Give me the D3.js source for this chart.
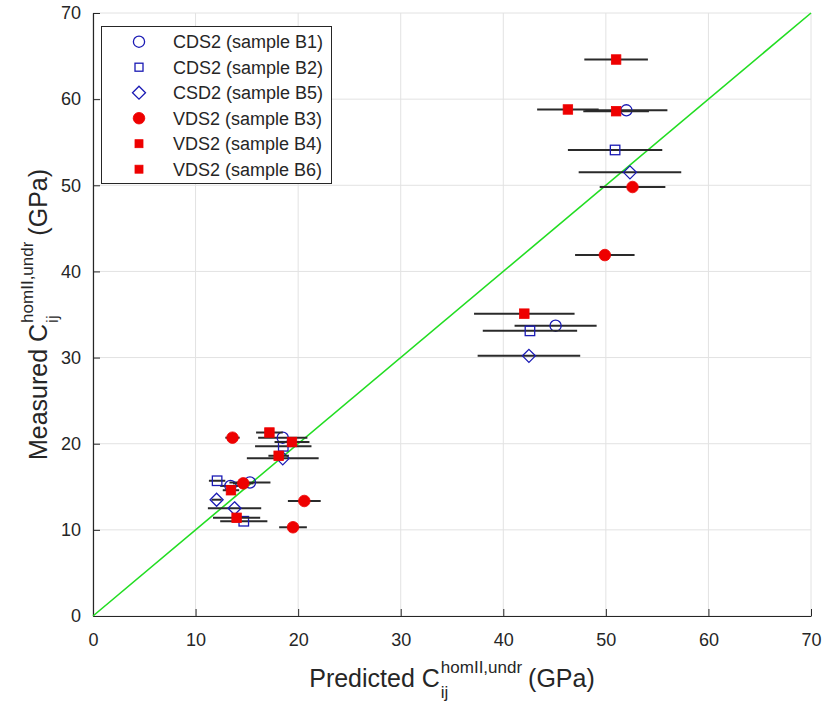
<!DOCTYPE html>
<html><head><meta charset="utf-8">
<script src="https://cdn.jsdelivr.net/npm/d3@7"></script>
<style>body{margin:0;background:#fff} svg{display:block;font-family:"Liberation Sans",Arial,Helvetica,sans-serif} text{white-space:pre}</style>
</head><body><svg id="c" width="827" height="706"></svg>
<script>
// ---- data ----
const xTicks = [0, 10, 20, 30, 40, 50, 60, 70];
const yTicks = [0, 10, 20, 30, 40, 50, 60, 70];
const seriesNames = ["CDS2 (sample B1)", "CDS2 (sample B2)", "CSD2 (sample B5)", "VDS2 (sample B3)", "VDS2 (sample B4)", "VDS2 (sample B6)"];
// predicted (x), measured (y), half-width of horizontal error bar
const b1Pred = [52.0, 45.1, 18.5, 15.3, 13.4];
const b1Meas = [58.7, 33.7, 20.7, 15.5, 15.1];
const b1Err  = [4.0, 4.0, 2.4, 2.0, 1.0];
const b2Pred = [50.9, 42.6, 18.55, 12.1, 14.7];
const b2Meas = [54.1, 33.1, 19.7, 15.7, 11.0];
const b2Err  = [4.6, 4.6, 2.75, 0.8, 2.3];
const b5Pred = [52.35, 42.5, 18.5, 12.05, 13.8];
const b5Meas = [51.5, 30.2, 18.3, 13.5, 12.5];
const b5Err  = [5.0, 5.0, 3.5, 0.5, 2.6];
const b3Pred = [52.6, 49.9, 20.6, 19.5, 13.6, 14.65];
const b3Meas = [49.8, 41.9, 13.35, 10.3, 20.7, 15.4];
const b3Err  = [3.2, 2.9, 1.6, 1.35, 0.7, 1.0];
const b4Pred = [51.0, 46.3, 42.05, 17.2, 13.45];
const b4Meas = [64.6, 58.8, 35.1, 21.3, 14.6];
const b4Err  = [3.1, 3.0, 4.9, 1.3, 0.8];
const b6Pred = [51.0, 19.4, 18.1, 14.0];
const b6Meas = [58.6, 20.2, 18.6, 11.4];
const b6Err  = [3.2, 1.7, 1.0, 2.3];
const identityLine = [0, 70];

// ---- layout ----
const svg = d3.select("#c");
const L = 93, R = 811, T = 13, B = 616;
const x = d3.scaleLinear().domain([0, 70]).range([L, R]);
const y = d3.scaleLinear().domain([0, 70]).range([B, T]);
const ink = "#262626";
const blue = "#1a1ab4";
const red = "#ee0000";

// grid
const grid = svg.append("g");
grid.selectAll(".gx").data(xTicks).join("line")
  .attr("x1", d => x(d)).attr("x2", d => x(d)).attr("y1", T).attr("y2", B)
  .attr("stroke", "#e2e2e2").attr("stroke-width", 1);
grid.selectAll(".gy").data(yTicks).join("line")
  .attr("y1", d => y(d)).attr("y2", d => y(d)).attr("x1", L).attr("x2", R)
  .attr("stroke", "#e2e2e2").attr("stroke-width", 1);

// axes
const xAxis = d3.axisBottom(x).tickValues(xTicks).tickSizeInner(-7).tickSizeOuter(0).tickPadding(12);
const yAxis = d3.axisLeft(y).tickValues(yTicks).tickSizeInner(-7).tickSizeOuter(0).tickPadding(12);
const gx = svg.append("g").attr("transform", `translate(0,${B})`).call(xAxis);
const gy = svg.append("g").attr("transform", `translate(${L},0)`).call(yAxis);
[gx, gy].forEach(g => {
  g.select(".domain").attr("stroke", ink).attr("stroke-width", 1.2);
  g.selectAll(".tick line").attr("stroke", ink);
  g.selectAll(".tick text").attr("fill", ink).attr("font-size", 18)
    .attr("font-family", "'Liberation Sans',Arial,sans-serif");
});
gx.selectAll(".tick text").attr("dy", "1.0em");

// identity line
svg.append("line")
  .attr("x1", x(identityLine[0])).attr("y1", y(identityLine[0]))
  .attr("x2", x(identityLine[1])).attr("y2", y(identityLine[1]))
  .attr("stroke", "#22dd22").attr("stroke-width", 1.6);

// series
function pts(p, m, e) { return p.map((v, i) => ({ p: v, m: m[i], e: e[i] })); }
const series = [
  { data: pts(b1Pred, b1Meas, b1Err), shape: "circle", fill: "none", stroke: blue },
  { data: pts(b2Pred, b2Meas, b2Err), shape: "square", fill: "none", stroke: blue },
  { data: pts(b5Pred, b5Meas, b5Err), shape: "diamond", fill: "none", stroke: blue },
  { data: pts(b3Pred, b3Meas, b3Err), shape: "dot", fill: red, stroke: red },
  { data: pts(b4Pred, b4Meas, b4Err), shape: "sq", fill: red, stroke: red },
  { data: pts(b6Pred, b6Meas, b6Err), shape: "sq", fill: red, stroke: red },
];

function drawMarker(g, shape, cx, cy, fill, stroke, legend) {
  if (shape === "circle") {
    g.append("circle").attr("cx", cx).attr("cy", cy).attr("r", 5.6)
      .attr("fill", fill).attr("stroke", stroke).attr("stroke-width", 1.3);
  } else if (shape === "dot") {
    g.append("circle").attr("cx", cx).attr("cy", cy).attr("r", 5.8)
      .attr("fill", fill).attr("stroke", stroke).attr("stroke-width", 0.8);
  } else if (shape === "square") {
    const s = legend ? 8 : 9.5;
    g.append("rect").attr("x", cx - s / 2).attr("y", cy - s / 2).attr("width", s).attr("height", s)
      .attr("fill", fill).attr("stroke", stroke).attr("stroke-width", 1.3);
  } else if (shape === "sq") {
    const s = legend ? 8 : 9.5;
    g.append("rect").attr("x", cx - s / 2).attr("y", cy - s / 2).attr("width", s).attr("height", s)
      .attr("fill", fill).attr("stroke", stroke).attr("stroke-width", 0.8);
  } else if (shape === "diamond") {
    const h = 6.5;
    g.append("path").attr("d", `M${cx},${cy - h}L${cx + h},${cy}L${cx},${cy + h}L${cx - h},${cy}Z`)
      .attr("fill", fill).attr("stroke", stroke).attr("stroke-width", 1.3);
  }
}

const dataG = svg.append("g");
series.forEach(s => {
  const g = dataG.append("g");
  g.selectAll("line").data(s.data).join("line")
    .attr("x1", d => x(d.p - d.e)).attr("x2", d => x(d.p + d.e))
    .attr("y1", d => y(d.m)).attr("y2", d => y(d.m))
    .attr("stroke", "#2a2a2a").attr("stroke-width", 2);
  s.data.forEach(d => drawMarker(g, s.shape, x(d.p), y(d.m), s.fill, s.stroke, false));
});

// legend
const lg = svg.append("g");
lg.append("rect").attr("x", 101.5).attr("y", 26.5).attr("width", 230).attr("height", 157)
  .attr("fill", "#fff").attr("stroke", ink).attr("stroke-width", 1);
seriesNames.forEach((name, i) => {
  const cy = 41.7 + i * 25.5;
  drawMarker(lg, series[i].shape, 139, cy, series[i].fill, series[i].stroke, true);
  lg.append("text").attr("x", 173).attr("y", cy).attr("dy", "0.35em")
    .attr("font-size", 18).attr("fill", ink).text(name);
});

// axis labels with stacked sub/superscript
function richLabel(cx, cy, rotate, pre) {
  const g = svg.append("g");
  const inner = g.append("g");
  const t1 = inner.append("text").attr("x", 0).attr("y", 0).attr("font-size", 25).attr("fill", ink).text(pre + " C");
  const w1 = t1.node().getComputedTextLength();
  const sup = inner.append("text").attr("x", w1 + 1).attr("y", -14).attr("font-size", 17).attr("fill", ink).text("homII,undr");
  const sub = inner.append("text").attr("x", w1 + 1).attr("y", 11).attr("font-size", 17).attr("fill", ink).text("ij");
  const w2 = Math.max(sup.node().getComputedTextLength(), sub.node().getComputedTextLength());
  const t3 = inner.append("text").attr("x", w1 + 1 + w2 + 6).attr("y", 0).attr("font-size", 25).attr("fill", ink).text("(GPa)");
  const W = w1 + 1 + w2 + 6 + t3.node().getComputedTextLength();
  inner.attr("transform", `translate(${-W / 2},0)`);
  g.attr("transform", `translate(${cx},${cy}) rotate(${rotate})`);
}
richLabel((L + R) / 2, 687, 0, "Predicted");
richLabel(47, (T + B) / 2, -90, "Measured");
</script>
</body></html>
